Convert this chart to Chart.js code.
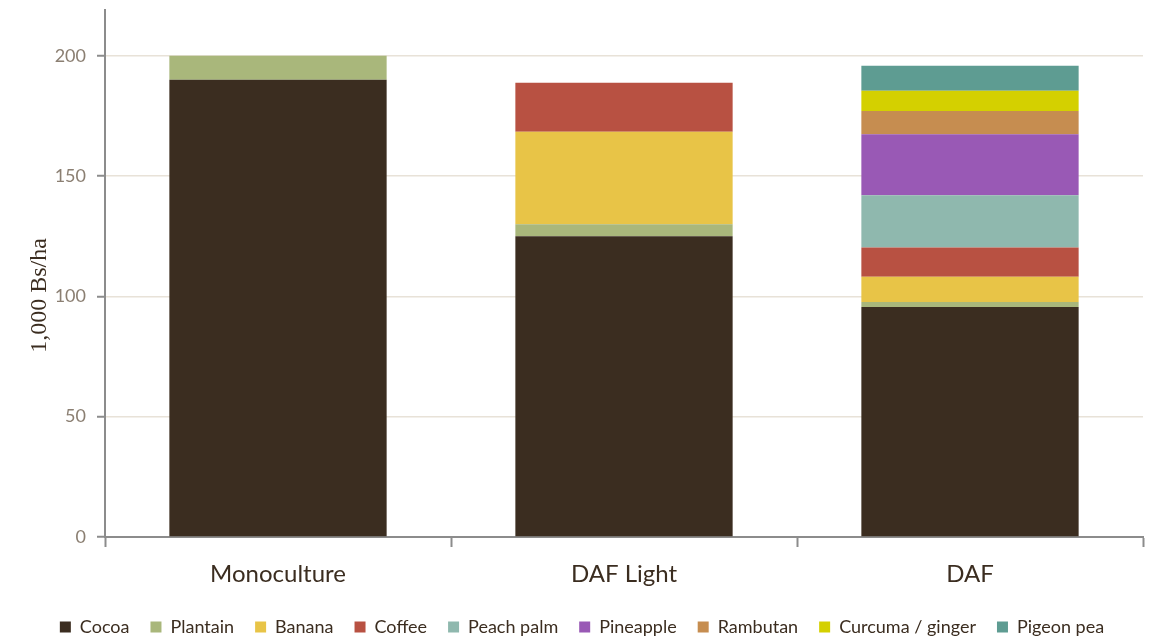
<!DOCTYPE html>
<html>
<head>
<meta charset="utf-8">
<script src="https://cdn.jsdelivr.net/npm/chart.js@4/dist/chart.umd.min.js"></script>
<style>
  html, body { margin: 0; padding: 0; background: #ffffff; }
  #wrap { width: 1153px; height: 636px; }
</style>
</head>
<body>
<div id="wrap"><canvas id="c" width="1153" height="636"></canvas></div>
<script>
// Revenue by crop for each production system (1,000 Bs/ha)
const systems = ['Monoculture', 'DAF Light', 'DAF'];

const cocoa      = [190, 125, 95.6];
const plantain   = [10, 5, 2.1];
const banana     = [0, 38.4, 10.4];
const coffee     = [0, 20.4, 12.2];
const peachPalm  = [0, 0, 21.7];
const pineapple  = [0, 0, 25.4];
const rambutan   = [0, 0, 9.6];
const curcuma    = [0, 0, 8.4];
const pigeonPea  = [0, 0, 10.4];

const yTicks = [0, 50, 100, 150, 200];
const yTitle = '1,000 Bs/ha';

const crops = [
  { label: 'Cocoa',            data: cocoa,     color: '#3b2d20' },
  { label: 'Plantain',         data: plantain,  color: '#a9b77b' },
  { label: 'Banana',           data: banana,    color: '#e8c447' },
  { label: 'Coffee',           data: coffee,    color: '#b85142' },
  { label: 'Peach palm',       data: peachPalm, color: '#8fb8ae' },
  { label: 'Pineapple',        data: pineapple, color: '#9959b5' },
  { label: 'Rambutan',         data: rambutan,  color: '#c68d50' },
  { label: 'Curcuma / ginger', data: curcuma,   color: '#d4d000' },
  { label: 'Pigeon pea',       data: pigeonPea, color: '#5e9c92' }
];

const axisGray = '#8c8c8c';
const font = 'Lato, "Open Sans", sans-serif';

// Rotated value-axis title, centred a little below the middle of the plot
const yTitlePlugin = {
  id: 'yTitle',
  afterDraw(chart) {
    const { ctx, chartArea } = chart;
    ctx.save();
    ctx.translate(40, (chartArea.top + chartArea.bottom) / 2 + 22);
    ctx.rotate(-Math.PI / 2);
    ctx.font = '24px "Liberation Serif", "DejaVu Serif", serif';
    ctx.fillStyle = '#3b2d20';
    ctx.textAlign = 'center';
    ctx.textBaseline = 'middle';
    ctx.fillText(yTitle, 0, 0);
    ctx.restore();
  }
};

new Chart(document.getElementById('c'), {
  type: 'bar',
  data: {
    labels: systems,
    datasets: crops.map(c => ({
      label: c.label,
      data: c.data,
      backgroundColor: c.color,
      borderWidth: 0,
      categoryPercentage: 1,
      barPercentage: 0.628
    }))
  },
  plugins: [yTitlePlugin],
  options: {
    responsive: false,
    animation: false,
    layout: { padding: { top: 10, right: 0, left: 11, bottom: -10 } },
    plugins: {
      tooltip: { enabled: false },
      legend: {
        position: 'bottom',
        labels: {
          boxWidth: 11,
          boxHeight: 11,
          padding: 21,
          color: '#3b2d20',
          font: { family: font, size: 18 }
        }
      }
    },
    scales: {
      x: {
        stacked: true,
        border: { display: true, color: axisGray, width: 2 },
        grid: {
          offset: true,
          drawOnChartArea: false,
          drawTicks: true,
          tickLength: 10,
          tickColor: axisGray,
          tickWidth: 2
        },
        ticks: {
          color: '#3b2d20',
          padding: 13,
          font: { family: font, size: 24 }
        },
        afterFit: s => { s.height = 60; s.paddingRight = 10; s.paddingLeft = 0; }
      },
      y: {
        stacked: true,
        min: 0,
        max: 219,
        border: { display: true, color: axisGray, width: 2 },
        grid: {
          color: '#e8e2d8',
          lineWidth: 1.5,
          tickLength: 8,
          tickColor: axisGray,
          tickWidth: 2
        },
        afterBuildTicks: s => { s.ticks = yTicks.map(v => ({ value: v })); },
        ticks: {
          color: '#8b7f72',
          padding: 11,
          font: { family: font, size: 18 }
        },
        afterFit: s => { s.width = 94; s.paddingTop = 0; s.paddingBottom = 0; }
      }
    }
  }
});
</script>
</body>
</html>
